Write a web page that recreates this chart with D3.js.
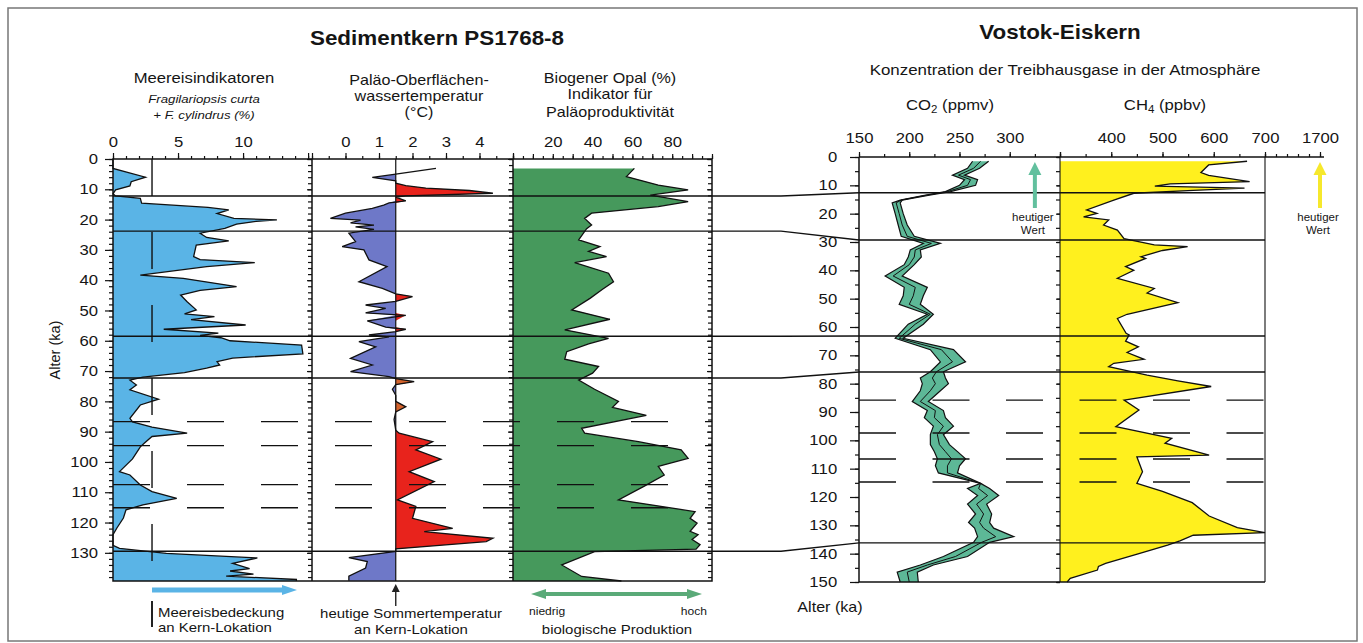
<!DOCTYPE html>
<html>
<head>
<meta charset="utf-8">
<script src="https://cdn.jsdelivr.net/npm/d3@7"></script>
<style>
  body { margin: 0; background: #fff; }
  svg text { font-family: "Liberation Sans", Arial, sans-serif; fill: #151515; }
</style>
</head>
<body>
<div id="chart"></div>
<script>
// ---- data: sediment core PS1768-8 (age in ka) ----
var iceAge = [0, 3.1, 6.0, 7.5, 8.9, 10.2, 11.5, 12.2, 13.0, 14.6, 16.0, 16.8, 18.0, 19.6, 20.1, 20.6, 21.5, 22.9, 24.5, 25.9, 27.0, 28.4, 32.2, 33.2, 34.2, 35.5, 38.3, 39.4, 42.1, 43.4, 44.9, 47.1, 49.8, 51.1, 52.0, 53.0, 54.8, 56.2, 57.5, 58.2, 59.0, 60.0, 61.4, 64.3, 65.7, 66.9, 68.0, 69.0, 70.5, 72.0, 73.0, 74.6, 76.2, 79.3, 81.2, 85.6, 86.8, 88.5, 90.5, 91.6, 93.8, 95.0, 99.0, 103.2, 104.3, 107.6, 109.8, 112.0, 114.2, 115.8, 118.5, 121.8, 124.0, 127.5, 128.5, 130.2, 131.7, 133.5, 135.2, 136.0, 137.0, 137.7, 138.8, 139.3]
var iceVal = [0, 0, 2.5, 1.4, 1.3, 0.2, 0, 0.2, 2.1, 2.2, 7.3, 8.9, 8.0, 9.3, 12.6, 11.0, 9.5, 8.6, 6.7, 7.2, 8.9, 6.4, 6.2, 6.7, 10.9, 7.2, 2.1, 5.4, 9.5, 6.7, 5.2, 5.7, 6.4, 5.5, 7.8, 6.0, 10.2, 3.9, 8.1, 6.7, 8.3, 9.0, 14.5, 14.6, 9.2, 8.0, 8.2, 7.2, 5.5, 2.3, 1.3, 1.8, 1.3, 3.5, 2.1, 1.3, 1.5, 3.0, 5.7, 3.0, 2.4, 2.1, 1.5, 0.5, 1.3, 2.1, 3.0, 4.9, 2.3, 1.0, 0.8, 0.3, 0, 0, 0.5, 4.1, 11.1, 9.2, 10.5, 9.0, 10.8, 8.7, 14.1, 14.1]

var tempAge = [3.1, 5.0, 6.1, 7.2, 8.0, 8.8, 9.6, 10.4, 11.3, 12.2, 12.6, 13.8, 14.5, 15.2, 16.3, 17.9, 19.6, 20.2, 21.1, 21.8, 22.4, 23.2, 24.5, 27.3, 28.9, 30.0, 33.3, 35.5, 40.5, 42.7, 44.5, 45.4, 47.0, 48.2, 49.3, 50.8, 51.6, 53.4, 55.5, 56.2, 57.0, 58.1, 58.7, 60.3, 62.0, 65.8, 68.0, 70.2, 71.8, 72.5, 73.5, 74.5, 76.0, 78.0, 80.0, 81.8, 83.5, 86.0, 89.5, 90.5, 93.3, 96.0, 99.1, 103.2, 106.5, 112.5, 114.7, 118.6, 121.9, 123.0, 125.2, 126.3, 128.7, 129.5, 131.6, 132.9, 135.0, 137.7, 139.2]
var tempVal = [2.7, 1.5, 0.8, 1.5, 1.5, 1.8, 2.4, 3.7, 4.4, 1.8, 1.5, 1.8, 1.3, 1.14, 0.8, 0.0, -0.45, 0.45, 0.15, 0.85, 0.3, 0.85, 0.1, 0.3, -0.1, 0.55, 0.7, 1.24, 0.4, 1.1, 1.5, 2.0, 1.5, 0.6, 1.2, 0.6, 1.8, 0.65, 1.2, 1.8, 1.5, 0.7, 1.3, 0.4, 0.9, 0.15, 0.8, 0.15, 1.3, 1.5, 2.05, 1.5, 1.4, 1.5, 1.5, 1.8, 1.5, 1.45, 1.5, 1.6, 2.6, 2.1, 2.85, 1.9, 2.65, 1.55, 2.1, 2.0, 3.2, 2.35, 4.4, 4.2, 1.5, 1.5, 0.1, 0.65, 0.6, 0.1, 0.1]
var tempToday = 1.5

var opalAge = [3.1, 5.8, 8.6, 10.2, 11.9, 14.1, 15.7, 17.9, 19.6, 21.8, 23.0, 26.7, 28.9, 30.5, 32.2, 34.2, 37.7, 40.5, 43.0, 46.0, 49.8, 52.9, 56.4, 59.2, 61.0, 63.6, 66.1, 68.5, 70.7, 73.0, 76.0, 80.0, 82.0, 84.6, 88.9, 90.5, 93.3, 96.0, 98.8, 101.5, 104.3, 108.0, 112.5, 116.4, 118.6, 120.2, 122.9, 124.0, 125.6, 127.3, 128.8, 129.6, 134.0, 137.8, 139.3]
var opalVal = [61, 57, 73, 88, 69, 88, 73, 39.5, 36, 39.5, 37, 33, 43.7, 38, 47, 31, 48, 50.5, 45, 38.7, 29.5, 48.7, 26, 48, 38, 27, 26, 43, 40, 33, 41, 53, 50, 67, 34.5, 36, 63, 84.5, 88, 73, 76, 66, 53, 91.5, 89, 92.5, 89, 93, 90, 94, 92, 41, 24.5, 34.5, 54.5]

var seaIceToday = 3

// ---- data: Vostok ice core ----
var co2Age  = [1.5, 4, 6.4, 8, 10, 12.2, 13.5, 15.2, 16.2, 20, 24, 28, 30.5, 32.8, 35.3, 38, 42, 46, 49, 52, 55.5, 59, 64, 68, 72.3, 75.8, 78, 80, 82.5, 86.3, 89.5, 92, 95, 98, 101.5, 104, 106.5, 109, 111.5, 115.2, 117, 119.5, 122.5, 126, 129, 131, 134, 136, 141, 144, 146.5, 150]
var co2Low  = [263, 258, 243, 255, 250, 236, 215, 191, 183, 186, 189, 192, 214, 201, 199, 195, 176, 195, 194, 190, 218, 199, 186, 221, 231, 221, 211, 213, 211, 203, 218, 215, 224, 221, 221, 225, 228, 226, 229, 271, 258, 268, 258, 266, 259, 265, 268, 264, 234, 211, 188, 191]
var co2Mid  = [271, 264, 249, 261, 258, 238, 217, 192, 187, 190, 193, 198, 222, 206, 205, 200, 184, 206, 204, 200, 221, 206, 190, 232, 243, 227, 223, 226, 221, 211, 226, 225, 234, 228, 230, 236, 242, 238, 238, 271, 269, 278, 267, 274, 270, 274, 286, 272, 246, 218, 198, 200]
var co2High = [279, 270, 255, 268, 266, 241, 220, 193, 191, 194, 198, 205, 231, 211, 212, 205, 193, 218, 214, 211, 224, 214, 194, 244, 256, 234, 236, 239, 231, 219, 234, 236, 244, 234, 240, 248, 256, 250, 248, 271, 280, 289, 277, 282, 280, 284, 304, 280, 258, 224, 208, 209]
var co2Today = 325

var ch4Age = [1.5, 2.8, 5.5, 6.5, 8.7, 9.5, 10.3, 11.0, 11.8, 12.8, 15.2, 18.7, 19.9, 21.1, 22.2, 24, 25.8, 28.8, 31, 31.6, 33, 35.2, 35.8, 38.7, 40, 42.8, 46.4, 48, 51.4, 55.5, 57, 62.2, 62.8, 65, 67, 69, 71.4, 72.8, 74, 77, 79, 81, 85.8, 89.3, 95.2, 99.3, 101, 105.2, 105.8, 111.1, 115.2, 118, 122, 126.7, 130.8, 132.6, 133.5, 135.5, 137, 140, 143.4, 144.5, 145.8, 148.7, 150]
var ch4Val = [665, 590, 575, 590, 670, 515, 485, 660, 560, 444, 405, 352, 372, 346, 395, 385, 412, 425, 484, 549, 500, 458, 467, 428, 444, 412, 484, 470, 530, 431, 412, 429, 435, 428, 453, 431, 464, 405, 395, 470, 530, 595, 425, 454, 409, 518, 505, 591, 450, 461, 450, 500, 558, 591, 646, 700, 560, 534, 510, 454, 389, 375, 373, 320, 314]
var ch4Today = 1700

// event lines: sediment age -> Vostok age
var eventSed = [12.2, 23.8, 58.5, 72.3, 129.5]
var eventVos = [12.6, 29.3, 63.2, 75.9, 136.2]
var dashSed = [86.7, 94.6, 107.5, 115.1]
var dashVos = [85.8, 97.4, 106.6, 114.7]

// tick labels
var iceLabels = [0, 5, 10]
var tempLabels = [0, 1, 2, 3, 4]
var opalLabels = [20, 40, 60, 80]
var co2Labels = [150, 200, 250, 300]
var ch4Labels = [400, 500, 600, 700]
var sedAgeLabels = d3.range(0, 131, 10)
var vosAgeLabels = d3.range(0, 151, 10)

var SX = 1.15   // the printed figure is a little stretched horizontally
var FONT = '"Liberation Sans", Arial, sans-serif'

var svg = d3.select("#chart").append("svg")
    .attr("width", 1363)
    .attr("height", 643)

// scales
var ySed = d3.scaleLinear().domain([0, 139.3]).range([159, 581])
var xIce = d3.scaleLinear().domain([0, 15.3]).range([113, 312])
var xTemp = d3.scaleLinear().domain([-1, 5]).range([312, 513])
var xOpal = d3.scaleLinear().domain([0, 100]).range([513, 712])
var yVos = d3.scaleLinear().domain([0, 150]).range([157, 582])
var xCO2 = d3.scaleLinear().domain([150, 350]).range([859, 1060])
var xCH4 = d3.scaleLinear().domain([300, 700]).range([1060, 1265])
var xCH4hi = d3.scaleLinear().domain([700, 1700]).range([1265, 1320])

function zip(ages, vals) {
  return ages.map(function(a, i) { return {ka: a, v: vals[i]} })
}
var ice = zip(iceAge, iceVal)
var temp = zip(tempAge, tempVal)
var opal = zip(opalAge, opalVal)
var ch4 = zip(ch4Age, ch4Val)
var co2 = co2Age.map(function(a, i) { return {ka: a, lo: co2Low[i], mid: co2Mid[i], hi: co2High[i]} })

// text helper
function label(x, y, str, size, anchor, extra) {
  var t = svg.append("text")
    .attr("transform", "translate(" + x + "," + y + ") scale(" + SX + ",1)")
    .attr("text-anchor", anchor || "middle")
    .style("font-size", size + "px")
    .text(str)
  if (extra) extra(t)
  return t
}

// outer frame
svg.append("rect")
  .attr("x", 8).attr("y", 8).attr("width", 1349).attr("height", 633)
  .attr("fill", "none").attr("stroke", "#777").attr("stroke-width", 1.5)

// ---------- fills ----------
svg.append("path").datum(ice)
  .attr("fill", "#5ab4e6")
  .attr("d", d3.area().y(function(d) { return ySed(d.ka) }).x0(xIce(0)).x1(function(d) { return xIce(d.v) }))

var tempFill = temp.filter(function(d) { return d.ka >= 5 })
svg.append("path").datum(tempFill)
  .attr("fill", "#6e78c8")
  .attr("d", d3.area().y(function(d) { return ySed(d.ka) })
    .x0(xTemp(tempToday)).x1(function(d) { return xTemp(Math.min(d.v, tempToday)) }))
var warmArea = d3.area().y(function(d) { return ySed(d.ka) })
    .x0(xTemp(tempToday)).x1(function(d) { return xTemp(Math.max(d.v, tempToday)) })
svg.append("path").datum(tempFill).attr("fill", "#e8231c").attr("d", warmArea)
svg.append("clipPath").attr("id", "orangeClip").append("rect")
  .attr("x", xTemp(-1)).attr("width", xTemp(5) - xTemp(-1))
  .attr("y", ySed(72.6)).attr("height", ySed(88) - ySed(72.6))
svg.append("path").datum(tempFill).attr("fill", "#d4632c")
  .attr("clip-path", "url(#orangeClip)").attr("d", warmArea)

svg.append("path").datum(opal)
  .attr("fill", "#46995c")
  .attr("d", d3.area().y(function(d) { return ySed(d.ka) }).x0(xOpal(0)).x1(function(d) { return xOpal(d.v) }))

svg.append("path").datum(co2)
  .attr("fill", "#5db897")
  .attr("d", d3.area().y(function(d) { return yVos(d.ka) })
    .x0(function(d) { return xCO2(d.lo) }).x1(function(d) { return xCO2(d.hi) }))

svg.append("path").datum(ch4)
  .attr("fill", "#fff01e")
  .attr("d", d3.area().y(function(d) { return yVos(d.ka) }).x0(xCH4(300)).x1(function(d) { return xCH4(d.v) }))

// ---------- event lines ----------
var lines = svg.append("g").attr("fill", "none").attr("stroke", "#111").attr("stroke-width", 1.4)
eventSed.forEach(function(a, i) {
  var p = d3.path()
  p.moveTo(xIce(0), ySed(a))
  p.lineTo(781, ySed(a))
  p.lineTo(xCO2(150), yVos(eventVos[i]))
  p.lineTo(xCH4(700), yVos(eventVos[i]))
  lines.append("path").attr("d", p.toString())
})
dashSed.forEach(function(a) {
  lines.append("line").attr("x1", xIce(0)).attr("x2", xOpal(100))
    .attr("y1", ySed(a)).attr("y2", ySed(a))
    .attr("stroke-dasharray", "37,37")
})
dashVos.forEach(function(a) {
  lines.append("line").attr("x1", xCO2(150)).attr("x2", xCH4(700))
    .attr("y1", yVos(a)).attr("y2", yVos(a))
    .attr("stroke-dasharray", "37,36.5")
})
// present-day sea ice limit
lines.append("line").attr("x1", xIce(seaIceToday)).attr("x2", xIce(seaIceToday))
  .attr("y1", ySed(0)).attr("y2", ySed(139.3)).attr("stroke-dasharray", "37,36")

// ---------- curves ----------
var curves = svg.append("g").attr("fill", "none").attr("stroke", "#111").attr("stroke-width", 1.3)
curves.append("path").datum(ice)
  .attr("d", d3.line().x(function(d) { return xIce(d.v) }).y(function(d) { return ySed(d.ka) }))
curves.append("path").datum(temp)
  .attr("d", d3.line().x(function(d) { return xTemp(d.v) }).y(function(d) { return ySed(d.ka) }))
curves.append("path").datum(opal)
  .attr("d", d3.line().x(function(d) { return xOpal(d.v) }).y(function(d) { return ySed(d.ka) }))
;["lo", "mid", "hi"].forEach(function(k) {
  curves.append("path").datum(co2)
    .attr("stroke-width", k == "mid" ? 1 : 1.2)
    .attr("d", d3.line().x(function(d) { return xCO2(d[k]) }).y(function(d) { return yVos(d.ka) }))
})
curves.append("path").datum(ch4)
  .attr("d", d3.line().x(function(d) { return xCH4(d.v) }).y(function(d) { return yVos(d.ka) }))

// ---------- frames ----------
var frame = svg.append("g").attr("fill", "none").attr("stroke", "#111").attr("stroke-width", 1.5)
frame.append("rect").attr("x", xIce(0)).attr("y", ySed(0))
  .attr("width", xOpal(100) - xIce(0)).attr("height", ySed(139.3) - ySed(0))
;[xTemp(-1), xOpal(0)].forEach(function(x) {
  frame.append("line").attr("x1", x).attr("x2", x).attr("y1", ySed(0)).attr("y2", ySed(139.3))
})
frame.append("line").attr("x1", xTemp(tempToday)).attr("x2", xTemp(tempToday))
  .attr("y1", ySed(0)).attr("y2", ySed(139.3)).attr("stroke-width", 1.2)

frame.append("line").attr("x1", xCO2(150)).attr("x2", xCH4hi(1700) + 4).attr("y1", yVos(0)).attr("y2", yVos(0))
frame.append("line").attr("x1", xCO2(150)).attr("x2", xCO2(150)).attr("y1", yVos(0)).attr("y2", yVos(150))
frame.append("line").attr("x1", xCO2(150)).attr("x2", xCH4(700)).attr("y1", yVos(150)).attr("y2", yVos(150))
frame.append("line").attr("x1", xCH4(700)).attr("x2", xCH4(700)).attr("y1", yVos(0)).attr("y2", yVos(150)).attr("stroke-width", 1.1)
frame.append("line").attr("x1", xCH4(300)).attr("x2", xCH4(300)).attr("y1", yVos(0)).attr("y2", yVos(150)).attr("stroke-width", 1.1)

// ---------- axes ----------
function styleAxis(g, size) {
  g.select(".domain").remove()
  g.attr("font-family", FONT).attr("font-size", size)
  g.selectAll("line").attr("stroke", "#111").attr("stroke-width", 1.2)
  g.selectAll("text").attr("fill", "#151515").attr("transform", "scale(" + SX + ",1)")
}
function topAxis(scale, y, major, minor, labels, size, gap) {
  svg.append("g").attr("transform", "translate(0," + y + ")")
    .call(d3.axisTop(scale).tickValues(minor).tickSize(3).tickFormat(""))
    .call(styleAxis, 14)
  svg.append("g").attr("transform", "translate(0," + y + ")")
    .call(d3.axisTop(scale).tickValues(major).tickSize(size).tickPadding(gap - size)
      .tickFormat(function(d) { return labels.indexOf(d) >= 0 ? d : "" }))
    .call(styleAxis, 14.5)
}
topAxis(xIce, ySed(0), [0, 5, 10, 15], d3.range(0, 15.3, 1), iceLabels, 6, 12)
topAxis(xTemp, ySed(0), d3.range(-1, 5.1, 1), d3.range(-1, 5.1, 0.5), tempLabels, 6, 12)
topAxis(xOpal, ySed(0), d3.range(0, 101, 10), d3.range(0, 101, 5), opalLabels, 5, 12)
topAxis(xCO2, yVos(0), d3.range(150, 351, 50), d3.range(150, 351, 25), co2Labels, 5, 14)
topAxis(xCH4, yVos(0), d3.range(300, 701, 100), d3.range(300, 701, 50), ch4Labels, 5, 14)
topAxis(xCH4hi, yVos(0), [1700], d3.range(700, 1701, 200), [1700], 5, 14)

function leftAxis(scale, x, major, minor, size, pad, labels) {
  svg.append("g").attr("transform", "translate(" + x + ",0)")
    .call(d3.axisLeft(scale).tickValues(minor).tickSize(4).tickFormat(""))
    .call(styleAxis, 14)
  svg.append("g").attr("transform", "translate(" + x + ",0)")
    .call(d3.axisLeft(scale).tickValues(major).tickSize(size).tickPadding(pad)
      .tickFormat(labels ? null : ""))
    .call(styleAxis, 14.5)
}
leftAxis(ySed, xIce(0), sedAgeLabels, d3.range(0, 139.3, 2), 8, 5, true)
;[xTemp(-1), xOpal(0), xOpal(100)].forEach(function(x) {
  leftAxis(ySed, x, sedAgeLabels, d3.range(0, 139.3, 2), 5, 0, false)
})
leftAxis(yVos, xCO2(150), vosAgeLabels, d3.range(0, 151, 5), 9, 10, true)
leftAxis(yVos, xCH4(300), vosAgeLabels, d3.range(0, 151, 5), 3, 0, false)

// ---------- arrows ----------
function arrowUp(x, yTop, yBot, color, w, head) {
  svg.append("line").attr("x1", x).attr("x2", x).attr("y1", yTop + head).attr("y2", yBot)
    .attr("stroke", color).attr("stroke-width", w)
  svg.append("path")
    .attr("d", "M" + (x - head * 0.5) + "," + (yTop + head) + "L" + x + "," + yTop + "L" + (x + head * 0.5) + "," + (yTop + head) + "Z")
    .attr("fill", color)
}
arrowUp(xCO2(co2Today), 162, 208, "#62c09e", 4, 13)
arrowUp(xCH4hi(ch4Today), 162, 208, "#f6e82c", 4, 13)
arrowUp(xTemp(tempToday), 584, 606, "#222", 1.4, 8)

// sea ice arrow (pointing right)
svg.append("line").attr("x1", xIce(seaIceToday)).attr("x2", 283).attr("y1", 590).attr("y2", 590)
  .attr("stroke", "#5ab4e6").attr("stroke-width", 5)
svg.append("path").attr("d", "M282,585L297,590L282,595Z").attr("fill", "#5ab4e6")
svg.append("line").attr("x1", xIce(seaIceToday)).attr("x2", xIce(seaIceToday))
  .attr("y1", 601).attr("y2", 627).attr("stroke", "#222").attr("stroke-width", 2)

// productivity double arrow
svg.append("line").attr("x1", 544).attr("x2", 689).attr("y1", 594).attr("y2", 594)
  .attr("stroke", "#5aaa78").attr("stroke-width", 4)
svg.append("path").attr("d", "M531,594L546,589L546,599Z").attr("fill", "#5aaa78")
svg.append("path").attr("d", "M702,594L687,589L687,599Z").attr("fill", "#5aaa78")

// ---------- texts ----------
label(437, 45, "Sedimentkern PS1768-8", 19.5, "middle", function(t) { t.style("font-weight", "bold") })
label(1060, 39, "Vostok-Eiskern", 19.5, "middle", function(t) { t.style("font-weight", "bold") })
label(1065, 75, "Konzentration der Treibhausgase in der Atmosphäre", 14.7)

label(204, 83, "Meereisindikatoren", 14.5)
label(204, 103, "Fragilariopsis curta", 11.5, "middle", function(t) { t.style("font-style", "italic") })
label(204, 119, "+ F. cylindrus (%)", 11.5, "middle", function(t) { t.style("font-style", "italic") })
label(419, 85, "Paläo-Oberflächen-", 14)
label(419, 101, "wassertemperatur", 14)
label(419, 117, "(°C)", 14)
label(610, 83, "Biogener Opal (%)", 14)
label(610, 99, "Indikator für", 14)
label(610, 117, "Paläoproduktivität", 14)

label(950, 110, "", 14.5, "middle", function(t) {
  t.append("tspan").text("CO")
  t.append("tspan").text("2").attr("dy", 3).style("font-size", "10px")
  t.append("tspan").text(" (ppmv)").attr("dy", -3)
})
label(1165, 110, "", 14.5, "middle", function(t) {
  t.append("tspan").text("CH")
  t.append("tspan").text("4").attr("dy", 3).style("font-size", "10px")
  t.append("tspan").text(" (ppbv)").attr("dy", -3)
})

label(xCO2(co2Today) - 2, 221, "heutiger", 10)
label(xCO2(co2Today) - 2, 234, "Wert", 10)
label(xCH4hi(ch4Today) - 2, 221, "heutiger", 10)
label(xCH4hi(ch4Today) - 2, 234, "Wert", 10)

svg.append("text")
  .attr("transform", "translate(60,350) rotate(-90)")
  .attr("text-anchor", "middle").style("font-size", "14.5px")
  .text("Alter (ka)")
label(830, 612, "Alter (ka)", 14)

label(158, 617, "Meereisbedeckung", 13, "start")
label(158, 632, "an Kern-Lokation", 13, "start")
label(411, 618, "heutige Sommertemperatur", 13)
label(411, 634, "an Kern-Lokation", 13)
label(529, 615, "niedrig", 10.5, "start")
label(707, 615, "hoch", 10.5, "end")
label(617, 634, "biologische Produktion", 13)
</script>
</body>
</html>
